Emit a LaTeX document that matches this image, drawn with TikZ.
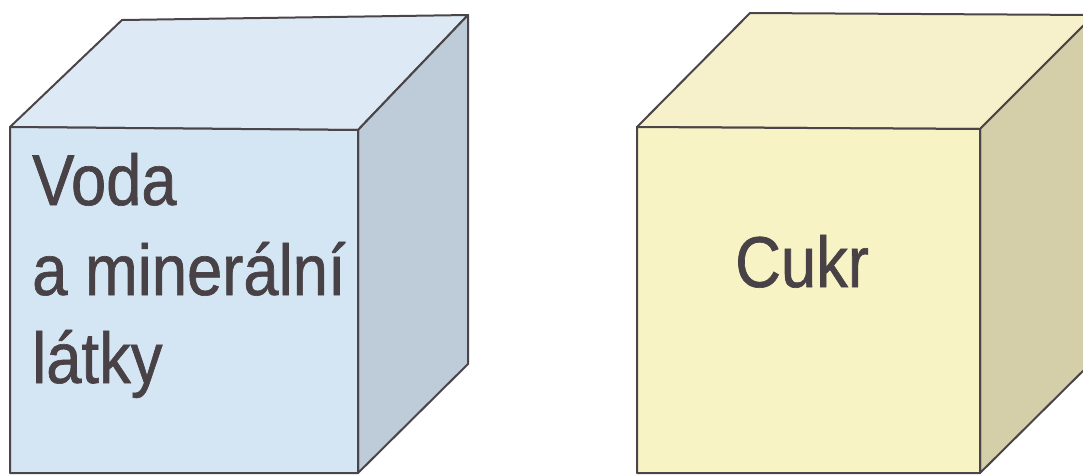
\documentclass[tikz,border=0pt]{standalone}
\usepackage{fontspec}
\setmainfont{Liberation Sans}[FakeStretch=0.88, FakeBold=0.9]
\usepackage{xcolor}
\definecolor{edge}{HTML}{4B4448}
\definecolor{ink}{HTML}{484145}
\definecolor{bluefront}{HTML}{D4E5F4}
\definecolor{bluetop}{HTML}{DDEAF6}
\definecolor{blueside}{HTML}{BDCCD8}
\definecolor{yelfront}{HTML}{F8F3C5}
\definecolor{yeltop}{HTML}{F6F1CB}
\definecolor{yelside}{HTML}{D5CFA9}

\begin{document}
\begin{tikzpicture}[
    x=1pt, y=-1pt,
    face/.style={draw=edge, line width=2pt, line join=round},
    label/.style={anchor=base west, inner sep=0pt, text=ink, font=\fontsize{72}{89}\selectfont}
  ]
  \useasboundingbox (0,0) rectangle (1083,475);
  \clip (0,0) rectangle (1083,475);

  % left cube
  \coordinate (wftl) at (10,127);
  \coordinate (wftr) at (358,130);
  \coordinate (wfbr) at (358,473);
  \coordinate (wfbl) at (10,473);
  \coordinate (wbtl) at (122,20);
  \coordinate (wbtr) at (468,15);
  \coordinate (wbbr) at (468,364);
  \filldraw[face, fill=bluetop] (wftl) -- (wbtl) -- (wbtr) -- (wftr) -- cycle;
  \filldraw[face, fill=blueside] (wftr) -- (wbtr) -- (wbbr) -- (wfbr) -- cycle;
  \filldraw[face, fill=bluefront] (wftl) -- (wftr) -- (wfbr) -- (wfbl) -- cycle;
  \node[label] (voda) at (32,205) {Voda};
  \node[label] (miner) at (32,295) {a minerální};
  \node[label] (latky) at (32,383) {látky};

  % right cube
  \coordinate (cftl) at (637,127);
  \coordinate (cftr) at (980,129);
  \coordinate (cfbr) at (980,473);
  \coordinate (cfbl) at (637,473);
  \coordinate (cbtl) at (750,13);
  \coordinate (cbtr) at (1094,15);
  \coordinate (cbbr) at (1094,360);
  \filldraw[face, fill=yeltop] (cftl) -- (cbtl) -- (cbtr) -- (cftr) -- cycle;
  \filldraw[face, fill=yelside] (cftr) -- (cbtr) -- (cbbr) -- (cfbr) -- cycle;
  \filldraw[face, fill=yelfront] (cftl) -- (cftr) -- (cfbr) -- (cfbl) -- cycle;
  \node[label] (cukr) at (735,287) {Cukr};
\end{tikzpicture}
\end{document}
